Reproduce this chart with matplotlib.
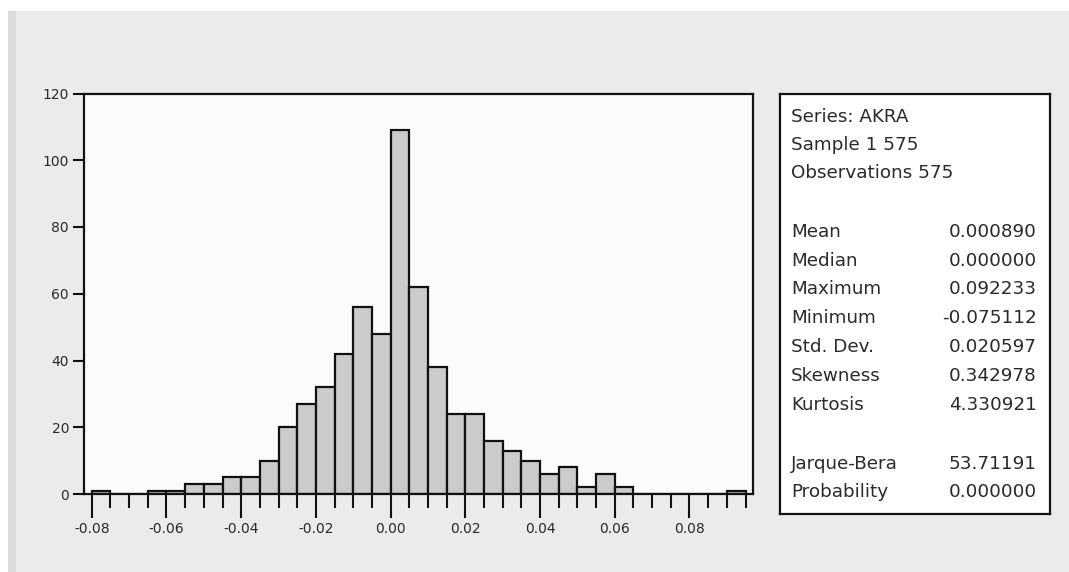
import matplotlib.pyplot as plt
from matplotlib.patches import Rectangle
from matplotlib.ticker import MultipleLocator

plt.rcParams['font.family'] = ['DejaVu Sans']
plt.rcParams['axes.unicode_minus'] = False

# Histogram of AKRA returns, bin width 0.005
bin_left = [-0.080, -0.075, -0.070, -0.065, -0.060, -0.055, -0.050, -0.045,
            -0.040, -0.035, -0.030, -0.025, -0.020, -0.015, -0.010, -0.005,
            0.000, 0.005, 0.010, 0.015, 0.020, 0.025, 0.030, 0.035,
            0.040, 0.045, 0.050, 0.055, 0.060, 0.065, 0.070, 0.075,
            0.080, 0.085, 0.090]
counts = [1, 0, 0, 1, 1, 3, 3, 5,
          5, 10, 20, 27, 32, 42, 56, 48,
          109, 62, 38, 24, 24, 16, 13, 10,
          6, 8, 2, 6, 2, 0, 0, 0,
          0, 0, 1]
bin_width = 0.005

x_ticks = [-0.08, -0.06, -0.04, -0.02, 0.00, 0.02, 0.04, 0.06, 0.08]
y_ticks = [0, 20, 40, 60, 80, 100, 120]

header_lines = ['Series: AKRA', 'Sample 1 575', 'Observations 575']
stat_names = ['Mean', 'Median', 'Maximum', 'Minimum', 'Std. Dev.',
              'Skewness', 'Kurtosis']
stat_values = ['0.000890', '0.000000', '0.092233', '-0.075112', '0.020597',
               '0.342978', '4.330921']
test_names = ['Jarque-Bera', 'Probability']
test_values = ['53.71191', '0.000000']

W, H = 1069, 572
fig = plt.figure(figsize=(W / 100, H / 100), dpi=100, facecolor='white')

# grey page background like the screenshot
fig.patches.append(Rectangle((8 / W, 0), 1, (H - 11) / H, transform=fig.transFigure,
                             facecolor='#ebebeb', edgecolor='none', zorder=-2))
fig.patches.append(Rectangle((8 / W, 0), 8 / W, (H - 11) / H, transform=fig.transFigure,
                             facecolor='#dcdcdc', edgecolor='none', zorder=-1))

ax = fig.add_axes([84.3 / W, 1 - 494 / H, (753 - 84.3) / W, (494 - 93.5) / H])
ax.set_facecolor('#fbfbfa')
ax.bar(bin_left, counts, width=bin_width, align='edge',
       color='#cbcbcb', edgecolor='#111111', linewidth=1.6, zorder=2)

ax.set_xlim(-0.082, 0.097)
ax.set_ylim(0, 120)
ax.set_xticks(x_ticks)
ax.set_xticklabels([f'{t:.2f}' for t in x_ticks])
ax.xaxis.set_minor_locator(MultipleLocator(0.005))
ax.set_yticks(y_ticks)

ax.tick_params(axis='x', which='major', direction='out', length=17, width=1.5,
               labelsize=10, pad=3, colors='#111111', labelcolor='#2a2a2a')
ax.tick_params(axis='x', which='minor', direction='out', length=10, width=1.5,
               colors='#111111')
ax.tick_params(axis='y', direction='out', length=8, width=1.5, labelsize=10,
               pad=3, colors='#111111', labelcolor='#2a2a2a')
for s in ax.spines.values():
    s.set_linewidth(1.6)
    s.set_color('#111111')

# statistics box
box = fig.add_axes([780 / W, 1 - 514 / H, (1050 - 780) / W, (514 - 94) / H])
box.set_facecolor('white')
box.set_xlim(780, 1050)
box.set_ylim(514, 94)
box.set_xticks([])
box.set_yticks([])
for s in box.spines.values():
    s.set_linewidth(1.6)
    s.set_color('#111111')

txt = dict(fontsize=13.2, color='#2a2a2a', va='center')
for i, line in enumerate(header_lines):
    box.text(791, 116.7 + i * 28.3, line, ha='left', **txt)
for i, (n, v) in enumerate(zip(stat_names, stat_values)):
    box.text(791, 231.7 + i * 28.9, n, ha='left', **txt)
    box.text(1037, 231.7 + i * 28.9, v, ha='right', **txt)
for i, (n, v) in enumerate(zip(test_names, test_values)):
    box.text(791, 464.3 + i * 28.0, n, ha='left', **txt)
    box.text(1037, 464.3 + i * 28.0, v, ha='right', **txt)

fig.savefig('out.png', dpi=100, facecolor=fig.get_facecolor())
